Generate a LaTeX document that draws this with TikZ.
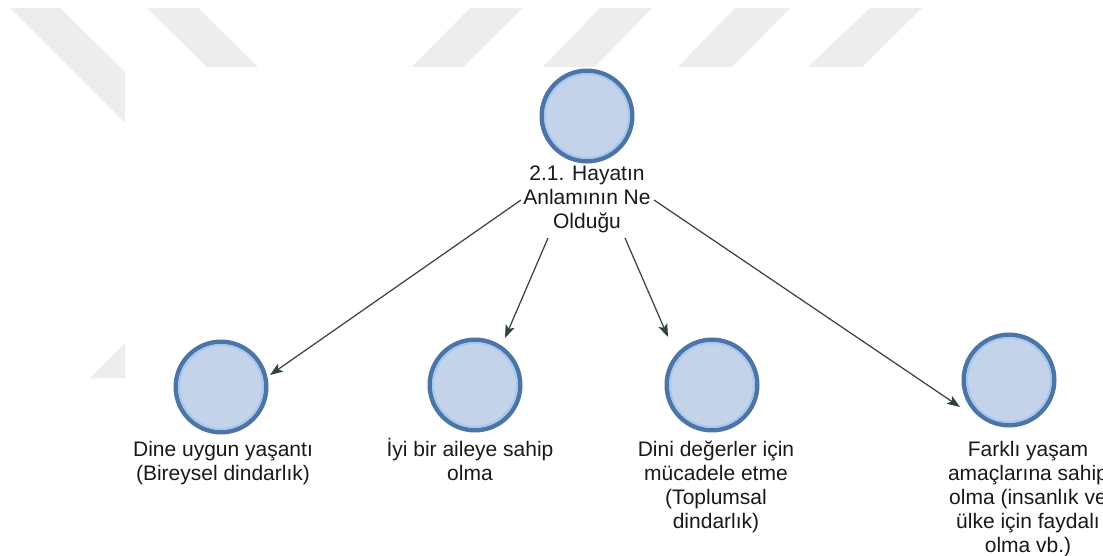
\documentclass[tikz,border=0pt]{standalone}
\usepackage{fontspec}
\setmainfont{Liberation Sans}
\usetikzlibrary{arrows.meta}

\definecolor{wmark}{RGB}{237,237,237}
\definecolor{ringdark}{RGB}{76,117,166}
\definecolor{ringlight}{RGB}{165,200,240}
\definecolor{bubblefill}{RGB}{196,211,233}
\definecolor{arrowc}{RGB}{47,66,62}
\definecolor{textc}{RGB}{25,25,25}

% fixed first-line height so every caption starts at the same level
\newcommand{\capstrut}{\rule{0pt}{20pt}}

\begin{document}
\begin{tikzpicture}[x=1pt,y=-1pt,
  bubble/.style={circle, minimum size=90.5pt, inner sep=0pt, fill=bubblefill,
                 draw=ringdark, line width=4.5pt},
  innerring/.style={draw=ringlight, line width=2pt},
  caption/.style={anchor=north, align=center, inner sep=0pt, text=textc,
                  font=\fontsize{21}{24}\selectfont},
  link/.style={draw=arrowc, line width=1.2pt,
               -{Stealth[length=13pt,width=9.5pt,inset=3pt]}},
  stripe/.style={fill=wmark, draw=none}]

\useasboundingbox (0,0) rectangle (1103,556);
\fill[white] (0,0) rectangle (1103,556);

% faint background stripes
\fill[stripe] (10,8) -- (60,8) -- (125,72) -- (125,123) -- cycle;
\fill[stripe] (147,8) -- (198,8) -- (258,67) -- (207,67) -- cycle;
\fill[stripe] (470,8) -- (523,8) -- (463,67) -- (412,67) -- cycle;
\fill[stripe] (600,8) -- (652,8) -- (595,67) -- (543,67) -- cycle;
\fill[stripe] (735,8) -- (790,8) -- (732,67) -- (678,67) -- cycle;
\fill[stripe] (870,8) -- (922,8) -- (862,67) -- (808,67) -- cycle;
\fill[stripe] (90,378) -- (125,343) -- (125,378) -- cycle;

% circles
\node[bubble] (c0) at (587,116) {};
\node[bubble] (c1) at (221,387) {};
\node[bubble] (c2) at (475,385) {};
\node[bubble] (c3) at (712,385) {};
\node[bubble] (c4) at (1009,380) {};
\foreach \n in {c0,c1,c2,c3,c4}
  \draw[innerring] (\n.center) circle (42pt);

% captions
\node[caption] (t0) at (587,160) {\capstrut 2.1. Hayatın\\Anlamının Ne\\Olduğu};
\node[caption] (t1) at (223,436) {\capstrut Dine uygun yaşantı\\(Bireysel dindarlık)};
\node[caption] (t2) at (470,436) {\capstrut İyi bir aileye sahip\\olma};
\node[caption] (t3) at (716,436) {\capstrut Dini değerler için\\mücadele etme\\(Toplumsal\\dindarlık)};
\node[caption] (t4) at (1028,436) {\capstrut Farklı yaşam\\amaçlarına sahip\\olma (insanlık ve\\ülke için faydalı\\olma vb.)};

% connector ends
\coordinate (s1) at (521,200);
\coordinate (s2) at (548,238);
\coordinate (s3) at (625,238);
\coordinate (s4) at (654,200);
\coordinate (e1) at (270,375);
\coordinate (e2) at (505,338);
\coordinate (e3) at (668,337);
\coordinate (e4) at (960,407);

\draw[link] (s1) -- (e1);
\draw[link] (s2) -- (e2);
\draw[link] (s3) -- (e3);
\draw[link] (s4) -- (e4);
\end{tikzpicture}
\end{document}
